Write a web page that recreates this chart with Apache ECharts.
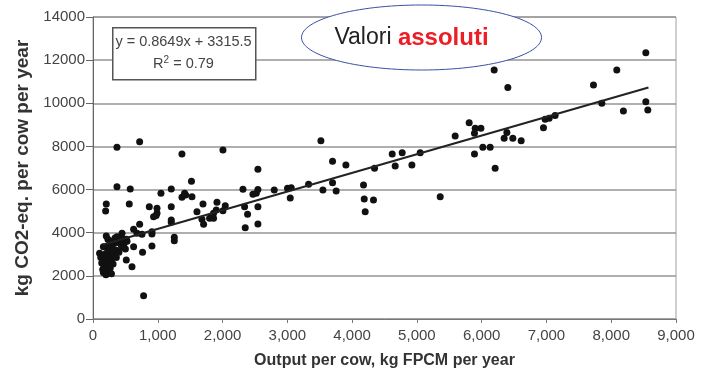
<!DOCTYPE html>
<html>
<head>
<meta charset="utf-8">
<script src="https://cdn.jsdelivr.net/npm/echarts@6/dist/echarts.min.js"></script>
<style>
html,body{margin:0;padding:0;background:#fff;}
#chart{width:714px;height:378px;}
</style>
</head>
<body>
<div id="chart"></div>
<script>
// ---- data ----
const xTickLabels = ['0','1,000','2,000','3,000','4,000','5,000','6,000','7,000','8,000','9,000'];
const yTickLabels = ['0','2000','4000','6000','8000','10000','12000','14000'];

// dense low-output cluster
const pointsCluster = [
  [102,3050],[120,2850],[135,2600],[150,2300],[160,2150],[170,2450],[175,2750],[185,3000],
  [190,2250],[200,2050],[205,2600],[210,3300],[220,2900],[225,2400],[235,2150],[240,3150],
  [250,2700],[255,3450],[265,2350],[270,3000],[280,3600],[290,2800],[300,3250],[310,2550],
  [320,3500],[330,3000],[340,3750],[350,3200],[360,2850],[385,3550],[400,3100],[420,3800],
  [440,3350],[460,3700],[480,3500],[500,3250],[525,3600],[160,3350],[230,3700],[285,2100]
];
// remaining points
const pointsMain = [
  [370,7960],[720,8220],[1373,7650],[2006,7835],[3518,8266],
  [370,6133],[575,6027],[560,5331],[205,5331],[195,5007],[205,3848],
  [1520,6390],[1414,5827],[1373,5642],[1430,5750],[1528,5670],[1049,5827],[1208,6027],
  [1208,5206],[1208,4590],[1208,4480],[1255,3788],[1255,3630],
  [869,5206],[988,5130],[988,4900],[935,4743],[975,4800],[910,4048],[910,3940],[910,3384],
  [765,3092],[781,1081],[720,4390],[679,3973],[756,3926],[627,4158],[627,3352],[602,2425],
  [514,2735],[472,3324],[514,3694],[448,3973],[370,3816],
  [1605,4974],[1698,5331],[1682,4622],[1707,4390],[1800,4669],[1861,4669],[1903,5053],
  [1914,5410],[1861,4900],[2006,5021],[2042,5253],
  [2315,6012],[2340,5206],[2350,4233],[2386,4854],[2469,5781],[2521,5835],[2546,6940],
  [2546,6000],[2546,5206],[2546,4404],[2798,5980],[3003,6058],[3045,5610],[3060,6087],
  [3328,6243],[3549,5980],[3698,7311],[3698,6320],[3754,5934],[3904,7140],
  [4176,6212],[4187,5563],[4330,5517],[4202,4974],[4346,6987],[4619,7650],[4773,7710],
  [4665,7093],[4923,7140],[5051,7710],[5360,5670],
  [5591,8480],[5807,9100],[5900,8840],[5988,8840],[5889,8610],[5889,7650],[6018,7960],
  [6131,7960],[6208,6987],[6193,11546],[6404,10727],[6347,8378],[6389,8640],[6481,8378],
  [6610,8266],[6954,8870],[6980,9258],[7042,9305],[7134,9430],[7726,10850],[7855,10000],
  [8086,11546],[8188,9643],[8534,12346],[8534,10074],[8565,9690]
];
// fitted trend line end points (y = 0.8649x + 3315.5)
const trendLine = [[150,3445],[8575,10732]];
const equationText = 'y = 0.8649x + 3315.5';
const r2Text = '0.79';

const FONT = '"Liberation Sans", Arial, sans-serif';
const chart = echarts.init(document.getElementById('chart'), null, {renderer:'canvas'});
chart.setOption({
  backgroundColor:'#ffffff',
  animation:false,
  grid:{left:93,right:38,top:17,bottom:59,show:true,borderColor:'#a0a0a0',borderWidth:1},
  xAxis:{
    type:'value',min:0,max:9000,interval:1000,
    name:'Output per cow, kg FPCM per year',nameLocation:'middle',nameGap:34,
    nameTextStyle:{fontFamily:FONT,fontSize:16,fontWeight:'bold',color:'#333'},
    axisLine:{show:true,lineStyle:{color:'#777',width:1}},
    axisTick:{show:true,length:4,lineStyle:{color:'#777'}},
    axisLabel:{fontFamily:FONT,fontSize:15,color:'#444',margin:9,
      formatter:v=>xTickLabels[Math.round(v/1000)]},
    splitLine:{show:false}
  },
  yAxis:{
    type:'value',min:0,max:14000,interval:2000,
    name:'kg CO2-eq. per cow per year',nameLocation:'middle',nameGap:60,
    nameTextStyle:{fontFamily:FONT,fontSize:19,fontWeight:'bold',color:'#333'},
    axisLine:{show:true,lineStyle:{color:'#666',width:1}},
    axisTick:{show:true,length:7,lineStyle:{color:'#666'}},
    axisLabel:{fontFamily:FONT,fontSize:15,color:'#444',margin:8,
      formatter:v=>yTickLabels[Math.round(v/2000)]},
    splitLine:{show:true,lineStyle:{color:'#959595',width:1.5}}
  },
  series:[
    {type:'scatter',data:pointsCluster.concat(pointsMain),symbol:'circle',symbolSize:7,
     itemStyle:{color:'#111',opacity:1},z:3},
    {type:'line',data:trendLine,symbol:'none',lineStyle:{color:'#222',width:2},z:4}
  ],
  graphic:[
    {type:'rect',left:112,top:27,z:100,
     shape:{width:143,height:52},style:{fill:'#fff',stroke:'#555',lineWidth:1.5}},
    {type:'text',x:183.5,y:42,z:101,
     style:{text:equationText,font:'14.5px '+FONT,fill:'#444',align:'center',verticalAlign:'middle'}},
    {type:'text',x:183.5,y:64,z:101,
     style:{text:'{a|R}{s|2}{a| = '+r2Text+'}',align:'center',verticalAlign:'middle',
       rich:{a:{fontFamily:FONT,fontSize:14.5,fill:'#444'},
             s:{fontFamily:FONT,fontSize:10,fill:'#444',verticalAlign:'top',padding:[0,0,8,0]}}}},
    {type:'ellipse',z:100,shape:{cx:421.5,cy:37.5,rx:120,ry:32.5},
     style:{fill:'#fff',stroke:'#3a4fa8',lineWidth:1}},
    {type:'text',x:411.5,y:38,z:101,
     style:{text:'{n|Valori }{b|assoluti}',align:'center',verticalAlign:'middle',
       rich:{n:{fontFamily:FONT,fontSize:23,fill:'#222'},
             b:{fontFamily:FONT,fontSize:24,fontWeight:'bold',fill:'#ee1c25'}}}}
  ]
});
</script>
</body>
</html>
